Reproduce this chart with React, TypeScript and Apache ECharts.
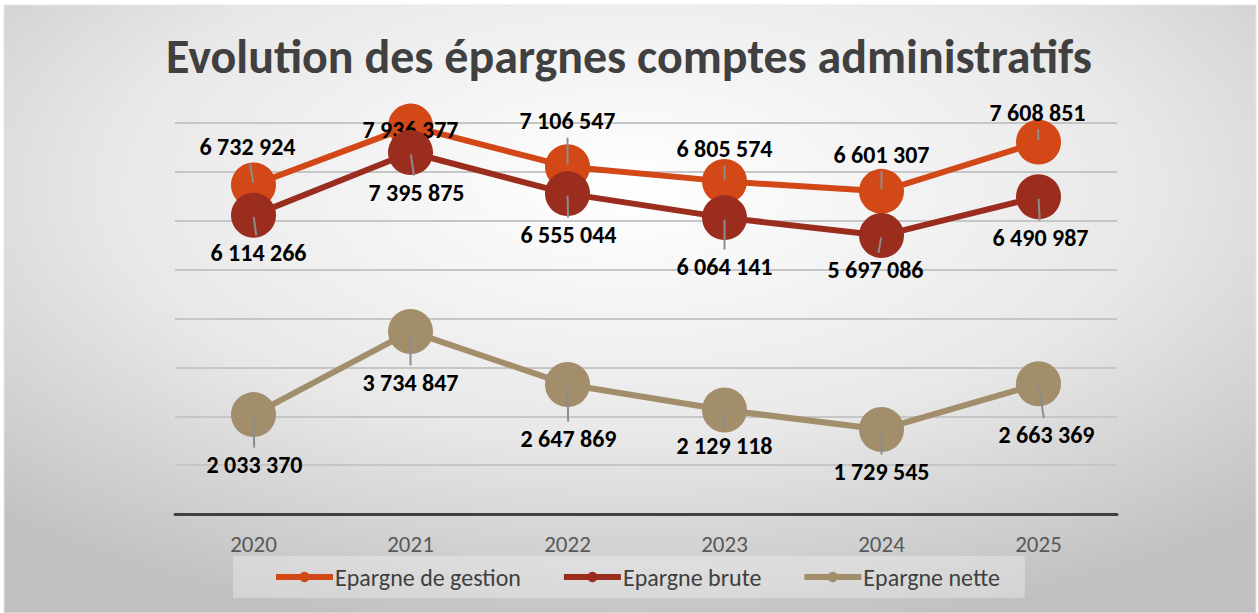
import React, { useEffect, useRef } from "react";
import * as echarts from "echarts";

const years = ["2020", "2021", "2022", "2023", "2024", "2025"];
const gestion = [6732924, 7936377, 7106547, 6805574, 6601307, 7608851];
const brute = [6114266, 7395875, 6555044, 6064141, 5697086, 6490987];
const nette = [2033370, 3734847, 2647869, 2129118, 1729545, 2663369];
const seriesNames = ["Epargne de gestion", "Epargne brute", "Epargne nette"];
const colors = ["#D34817", "#9B2D1F", "#A28E6A"];

// label offsets (px) relative to each point
const gestionOffsets = [[-6, -38], [0, 3], [0, -46], [0, -33], [0, -37], [-1, -30]];
const bruteOffsets = [[5, 37], [6, 40], [1, 41], [0, 49], [-6, 34], [2, 41]];
const netteOffsets = [[1, 50], [0, 51], [1, 54], [0, 36], [0, 42], [8, 51]];

const FONT = "Carlito, 'Open Sans', sans-serif";
const fmt = (v: number) => String(v).replace(/\B(?=(\d{3})+(?!\d))/g, " ");

export default function App() {
  const ref = useRef<HTMLDivElement>(null);
  useEffect(() => {
    if (!ref.current) return;
    const chart = echarts.init(ref.current, undefined, { renderer: "svg" });
    const sets = [gestion, brute, nette];
    const offs = [gestionOffsets, bruteOffsets, netteOffsets];

    const lineSeries = sets.map((vals, si) => ({
      name: seriesNames[si],
      type: "line",
      z: 2 + si,
      symbol: "circle",
      symbolSize: 45,
      lineStyle: { width: 6, color: colors[si] },
      itemStyle: { color: colors[si] },
      label: {
        show: true,
        position: "inside",
        formatter: (p: any) => fmt(p.value),
        fontFamily: FONT,
        fontWeight: "bold",
        fontSize: 24,
        color: "#000",
      },
      data: vals.map((v, i) => ({
        value: v,
        label: { offset: offs[si][i] },
      })),
    }));

    const leaderData: number[][] = [];
    sets.forEach((vals, si) =>
      vals.forEach((v, i) => leaderData.push([i, v, offs[si][i][0], offs[si][i][1]]))
    );

    const leaderSeries = {
      type: "custom",
      z: 10,
      silent: true,
      renderItem: (params: any, api: any) => {
        const p = api.coord([api.value(0), api.value(1)]);
        const dx = api.value(2);
        const dy = api.value(3);
        const len = Math.sqrt(dx * dx + dy * dy);
        if (len < 20) return null;
        const k0 = 2 / len;
        const k = (len - 17) / len;
        return {
          type: "line",
          shape: {
            x1: p[0] + dx * k0,
            y1: p[1] + dy * k0,
            x2: p[0] + dx * k,
            y2: p[1] + dy * k,
          },
          style: { stroke: "#8c8c8c", lineWidth: 2 },
        };
      },
      data: leaderData,
    };

    chart.setOption({
      animation: false,
      graphic: [
        {
          type: "rect",
          z: -10,
          shape: { x: 4, y: 5, width: 1252, height: 608 },
          style: {
            fill: new echarts.graphic.RadialGradient(0.5, 0.3, 0.75, [
              { offset: 0, color: "#ffffff" },
              { offset: 0.55, color: "#e8e8e8" },
              { offset: 1, color: "#c0c0c0" },
            ]),
            stroke: "#e6e6e6",
            lineWidth: 1,
          },
        },
      ],
      title: {
        text: "Evolution des épargnes comptes administratifs",
        left: "center",
        top: 27,
        textStyle: {
          fontFamily: FONT,
          fontWeight: "bold",
          fontSize: 48,
          color: "#404040",
        },
      },
      grid: { left: 175, right: 141, top: 123, bottom: 99 },
      xAxis: {
        type: "category",
        data: years,
        boundaryGap: true,
        axisLine: { lineStyle: { color: "#404040", width: 3 } },
        axisTick: { show: false },
        axisLabel: {
          color: "#595959",
          fontSize: 23,
          fontFamily: FONT,
          margin: 18,
        },
      },
      yAxis: {
        type: "value",
        min: 0,
        max: 8000000,
        interval: 1000000,
        axisLabel: { show: false },
        axisLine: { show: false },
        axisTick: { show: false },
        splitLine: { lineStyle: { color: "#c6c6c6", width: 2 } },
      },
      legend: {
        data: seriesNames,
        left: 233,
        bottom: 15,
        padding: [9, 25, 9, 40],
        itemGap: 40,
        itemWidth: 57,
        itemHeight: 13,
        lineStyle: { width: 6 },
        backgroundColor: "rgba(255,255,255,0.3)",
        textStyle: {
          color: "#404040",
          fontSize: 24,
          fontFamily: FONT,
          padding: [0, 0, 0, -3],
        },
      },
      series: [...lineSeries, leaderSeries],
    });
    return () => chart.dispose();
  }, []);
  return (
    <div
      ref={ref}
      style={{ position: "absolute", left: 0, top: 0, width: 1258, height: 613, background: "#fff" }}
    />
  );
}
